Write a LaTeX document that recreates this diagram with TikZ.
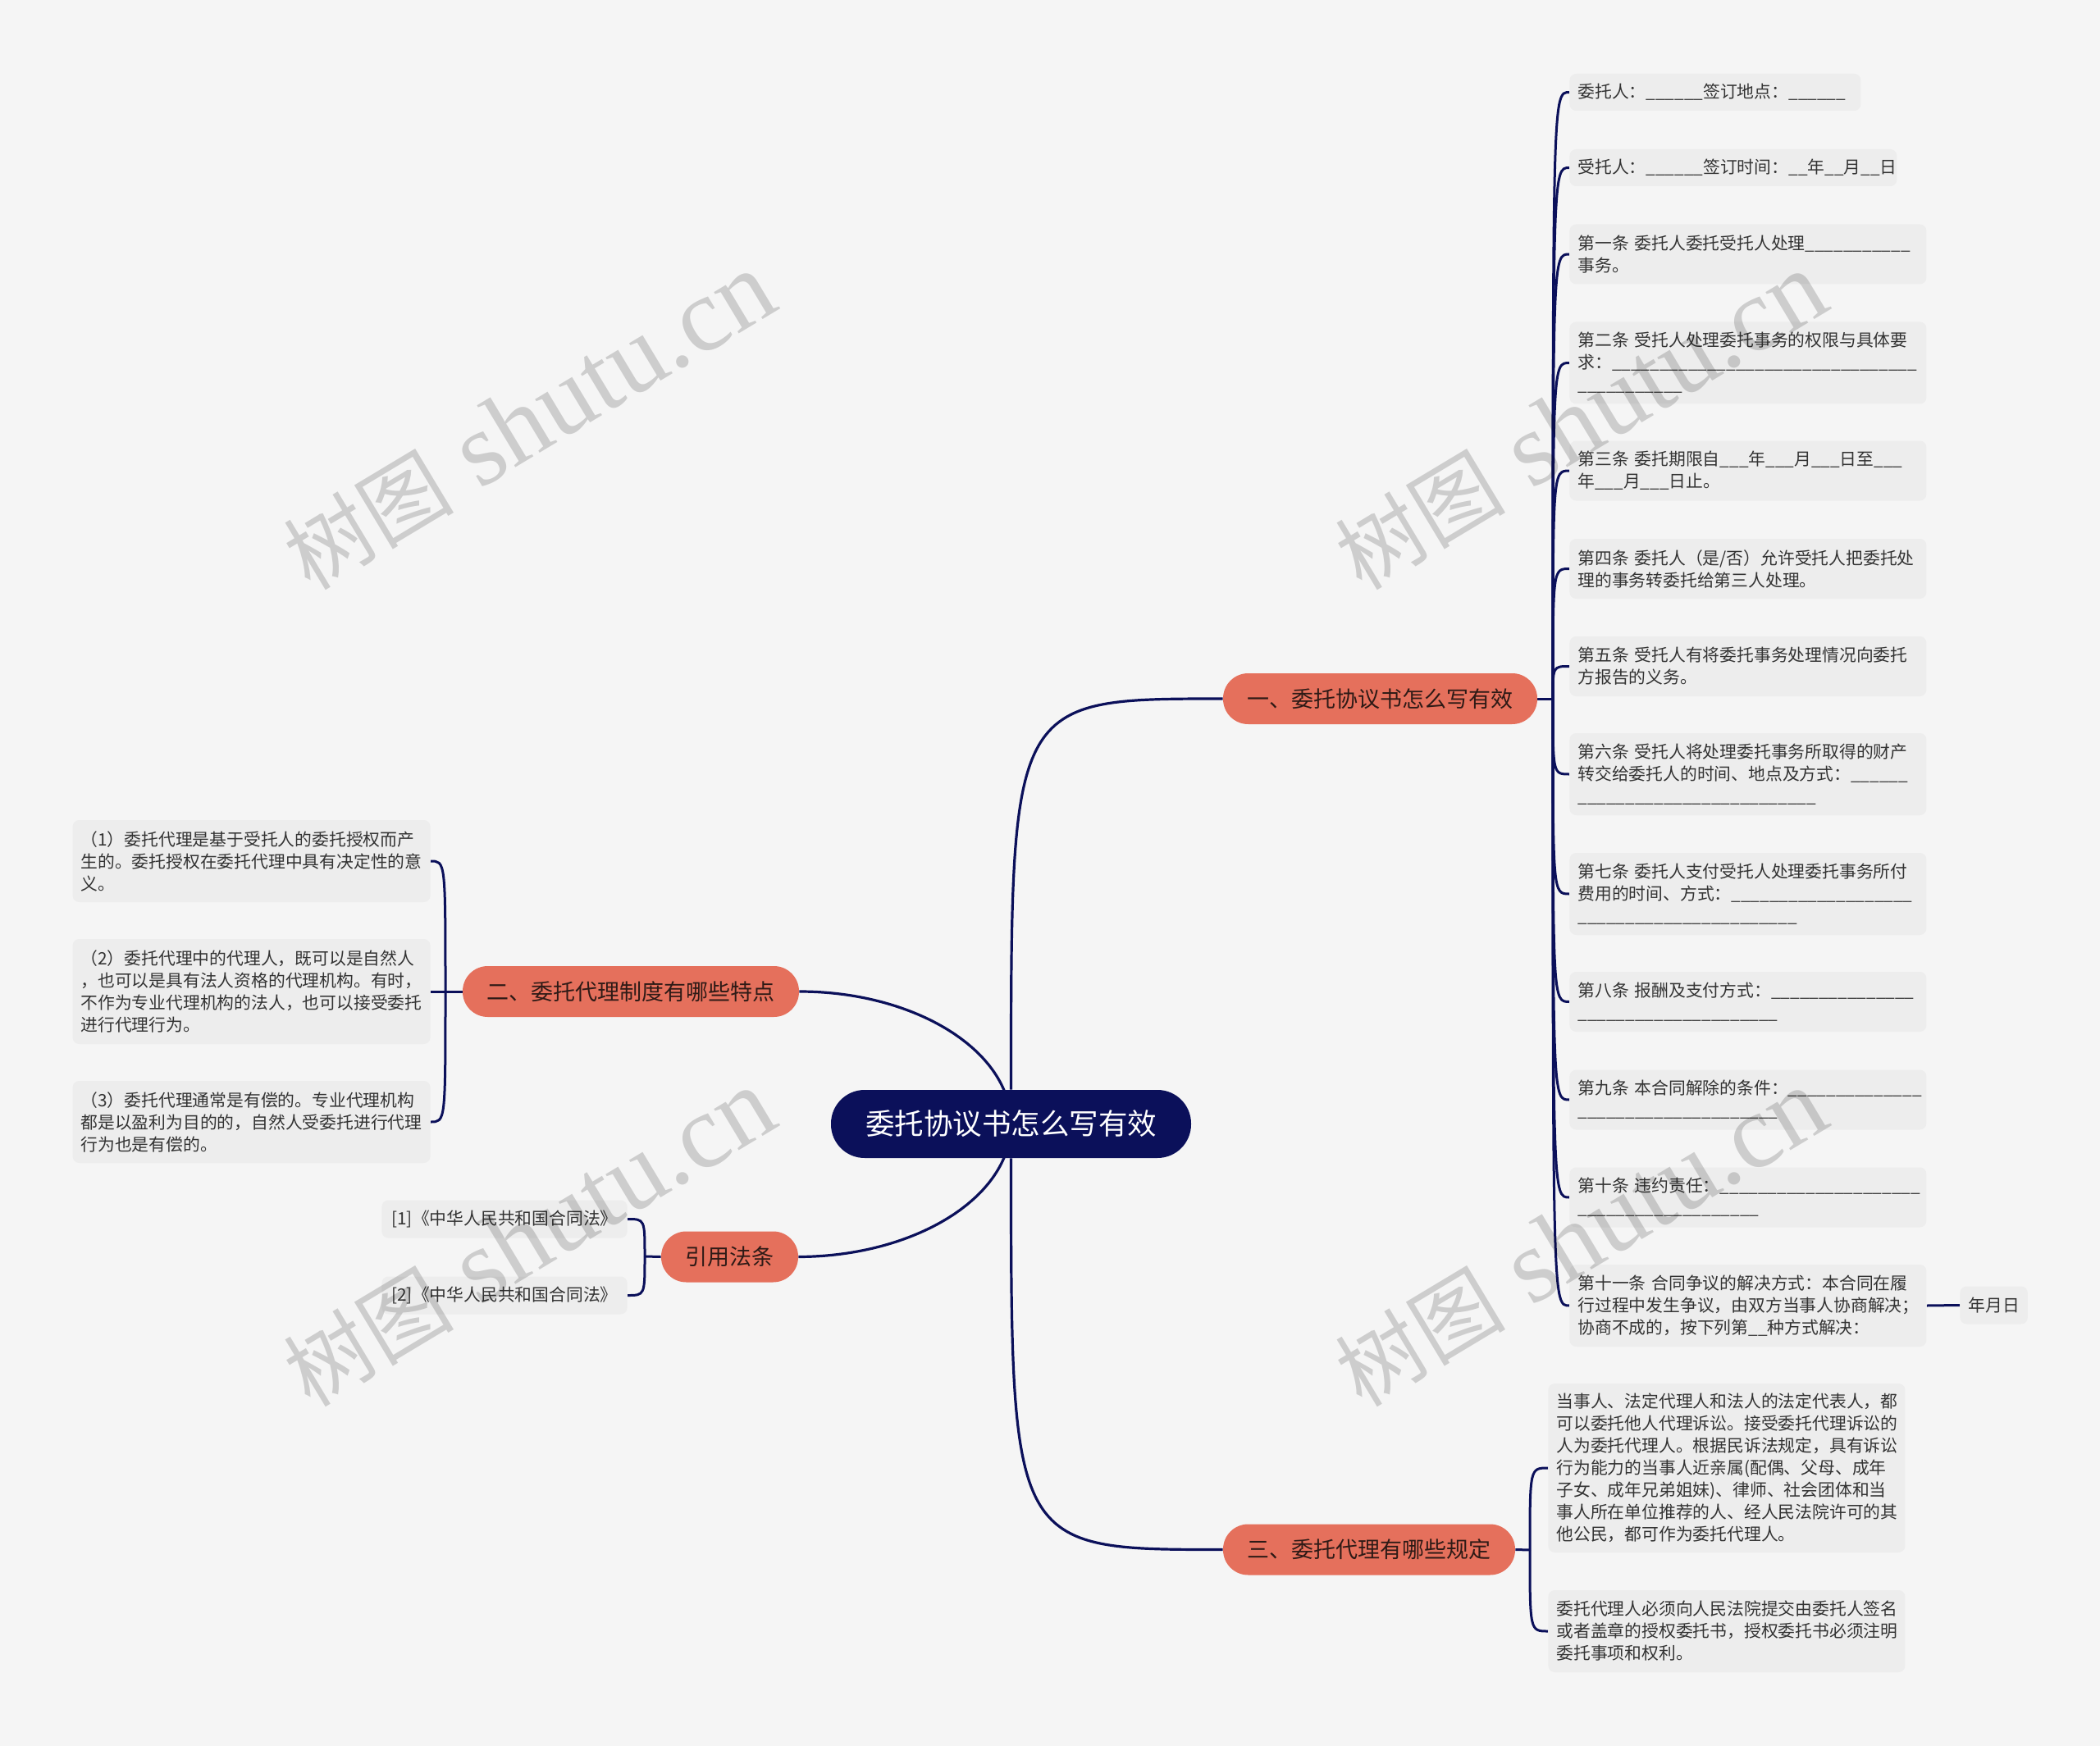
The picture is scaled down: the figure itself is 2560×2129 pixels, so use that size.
\documentclass[tikz,border=0pt]{standalone}
\usepackage{fontspec}
\setmainfont{Noto Sans CJK SC}
\newfontfamily\wmlatin{Liberation Serif}
\usetikzlibrary{backgrounds}
\definecolor{bgc}{HTML}{F5F5F5}
\definecolor{leafc}{HTML}{EDEDED}
\definecolor{navy}{HTML}{0B105A}
\definecolor{coral}{HTML}{E5705C}
\definecolor{brtext}{HTML}{2E1A16}
\definecolor{leaftext}{HTML}{333333}
\newcount\ucnt
\newcommand\ublank[1]{\setbox0=\hbox{\textunderscore}\ucnt=\numexpr\dimexpr#1pt/2\relax/\wd0\relax\ublankloop}
\newcommand\ublankloop{\ifnum\ucnt>0 \textunderscore\advance\ucnt-1 \expandafter\ublankloop\fi}
\newcommand\wmtext{\fontsize{52pt}{52pt}\selectfont 树图\wmlatin\fontsize{64pt}{64pt}\selectfont{} shutu.cn}
\tikzset{
  centernode/.style={fill=navy, text=white, rounded corners=20.5pt, minimum height=41.5pt, inner xsep=21pt, inner ysep=0pt, font=\fontsize{17.75pt}{22pt}\selectfont},
  branchnode/.style={fill=coral, text=brtext, rounded corners=15.3pt, minimum height=31pt, inner xsep=14.75pt, inner ysep=0pt, font=\fontsize{13.5pt}{16pt}\selectfont},
  leaf/.style={fill=leafc, text=leaftext, rounded corners=4pt, inner xsep=5pt, inner ysep=0pt, align=left, font=\fontsize{10.4pt}{13.5pt}\selectfont},
  leafone/.style={leaf, minimum height=22.5pt},
  leaftwo/.style={leaf, minimum height=36.5pt},
  leafthree/.style={leaf, minimum height=50pt},
  reftext/.style={leaf, minimum height=23pt, inner xsep=6pt, font=\fontsize{10.4pt}{13.5pt}\selectfont},
  link/.style={draw=navy, line width=1.5pt},
  mainlink/.style={draw=navy, line width=1.6pt},
  wm/.style={rotate=31, text=black, text opacity=0.16, inner sep=0pt}
}
\begin{document}
\begin{tikzpicture}[x=0.5pt,y=-0.5pt]
\useasboundingbox (0,0) rectangle (2560,2129);

% central and main branches
\node[centernode] (c) at (1232.5,1370.5) {委托协议书怎么写有效};
\node[branchnode] (b1) at (1682.5,852) {一、委托协议书怎么写有效};
\node[branchnode] (b2) at (769,1209) {二、委托代理制度有哪些特点};
\node[branchnode] (b3) at (1669,1889.5) {三、委托代理有哪些规定};
\node[branchnode] (b4) at (889.5,1532.5) {引用法条};

\coordinate (j1) at (1893,852);
\coordinate (j2) at (543,1209);
\coordinate (j3) at (786,1532);
\coordinate (j4) at (1865,1890);
\coordinate (k2a) at (1232.5,1281.3);
\coordinate (k2b) at (1116,1209);
\coordinate (k4a) at (1232.5,1459.7);
\coordinate (k4b) at (1116,1532);

% right leaves of branch 1
\node[leafone, anchor=west, text width=167.5pt] (r1) at (1913,112.5) {委托人：\ublank{73}签订地点：\ublank{75}};
\node[leafone, anchor=west, text width=189.5pt] (r2) at (1913,204.5) {受托人：\ublank{73}签订时间：\ublank{22}年\ublank{22}月\ublank{22}日};
\node[leaftwo, anchor=west, text width=207.5pt] (r3) at (1913,310) {第一条~委托人委托受托人处理\ublank{131}\\事务。};
\node[leafthree, anchor=west, text width=207.5pt] (r4) at (1913,442.5) {第二条~受托人处理委托事务的权限与具体要\\求：\ublank{372}\\\ublank{130}};
\node[leaftwo, anchor=west, text width=207.5pt] (r5) at (1913,574) {第三条~委托期限自\ublank{37}年\ublank{37}月\ublank{37}日至\ublank{37}\\年\ublank{37}月\ublank{37}日止。};
\node[leaftwo, anchor=west, text width=207.5pt] (r6) at (1913,693.5) {第四条~委托人（是/否）允许受托人把委托处\\理的事务转委托给第三人处理。};
\node[leaftwo, anchor=west, text width=207.5pt] (r7) at (1913,812.5) {第五条~受托人有将委托事务处理情况向委托\\方报告的义务。};
\node[leafthree, anchor=west, text width=207.5pt] (r8) at (1913,944) {第六条~受托人将处理委托事务所取得的财产\\转交给委托人的时间、地点及方式：\ublank{74}\\\ublank{289}};
\node[leafthree, anchor=west, text width=207.5pt] (r9) at (1913,1090) {第七条~委托人支付受托人处理委托事务所付\\费用的时间、方式：\ublank{224}\\\ublank{270}};
\node[leaftwo, anchor=west, text width=207.5pt] (r10) at (1913,1221.5) {第八条~报酬及支付方式：\ublank{177}\\\ublank{242}};
\node[leaftwo, anchor=west, text width=207.5pt] (r11) at (1913,1341) {第九条~本合同解除的条件：\ublank{159}\\\ublank{242}};
\node[leaftwo, anchor=west, text width=207.5pt] (r12) at (1913,1460) {第十条~违约责任：\ublank{241}\\\ublank{224}};
\node[leafthree, anchor=west, text width=207.5pt] (r13) at (1913,1592) {第十一条~合同争议的解决方式：本合同在履\\行过程中发生争议，由双方当事人协商解决；\\协商不成的，按下列第\ublank{28}种方式解决：};
\node[reftext, anchor=west, inner xsep=5pt] (r14) at (2389,1591.5) {年月日};

% left leaves of branch 2
\node[leafthree, anchor=east, text width=208pt] (l1) at (525,1050) {（1）委托代理是基于受托人的委托授权而产\\生的。委托授权在委托代理中具有决定性的意\\义。};
\node[leaf, minimum height=64pt, anchor=east, text width=208pt] (l2) at (525,1209) {（2）委托代理中的代理人，既可以是自然人\\，也可以是具有法人资格的代理机构。有时，\\不作为专业代理机构的法人，也可以接受委托\\进行代理行为。};
\node[leafthree, anchor=east, text width=208pt] (l3) at (525,1368) {（3）委托代理通常是有偿的。专业代理机构\\都是以盈利为目的的，自然人受委托进行代理\\行为也是有偿的。};

% references
\node[reftext, anchor=east] (q1) at (765,1486.5) {[1]《中华人民共和国合同法》};
\node[reftext, anchor=east] (q2) at (765,1579.5) {[2]《中华人民共和国合同法》};

% leaves of branch 3
\node[leaf, minimum height=103pt, anchor=west, text width=207.5pt] (s1) at (1887,1790) {当事人、法定代理人和法人的法定代表人，都\\可以委托他人代理诉讼。接受委托代理诉讼的\\人为委托代理人。根据民诉法规定，具有诉讼\\行为能力的当事人近亲属(配偶、父母、成年\\子女、成年兄弟姐妹)、律师、社会团体和当\\事人所在单位推荐的人、经人民法院许可的其\\他公民，都可作为委托代理人。};
\node[leafthree, anchor=west, text width=207.5pt] (s2) at (1887,1989) {委托代理人必须向人民法院提交由委托人签名\\或者盖章的授权委托书，授权委托书必须注明\\委托事项和权利。};

\begin{scope}[on background layer]
  \fill[bgc] (0,0) rectangle (2560,2129);
  \draw[mainlink] (c.north) .. controls (c.north |- b1.west) .. (b1.west);
  \draw[mainlink] (c.center) .. controls (k2a) and (k2b) .. (b2.east);
  \draw[mainlink] (c.south) .. controls (c.south |- b3.west) .. (b3.west);
  \draw[mainlink] (c.center) .. controls (k4a) and (k4b) .. (b4.east);
  \draw[link] (b1.east) -- (j1);
  \foreach \i in {1,...,13} \draw[link] (j1) .. controls (j1 |- r\i.west) .. (r\i.west);
  \draw[link] (r13.east) -- (r14.west);
  \draw[link] (b2.west) -- (j2);
  \foreach \i in {1,2,3} \draw[link] (j2) .. controls (j2 |- l\i.east) .. (l\i.east);
  \draw[link] (b4.west) -- (j3);
  \foreach \i in {1,2} \draw[link] (j3) .. controls (j3 |- q\i.east) .. (q\i.east);
  \draw[link] (b3.east) -- (j4);
  \foreach \i in {1,2} \draw[link] (j4) .. controls (j4 |- s\i.west) .. (s\i.west);
\end{scope}

% watermarks
\node[wm] (w1) at (645,514) {\wmtext};
\node[wm] (w2) at (1927,514) {\wmtext};
\node[wm] (w3) at (645,1510) {\wmtext};
\node[wm] (w4) at (1927,1510) {\wmtext};
\end{tikzpicture}
\end{document}
